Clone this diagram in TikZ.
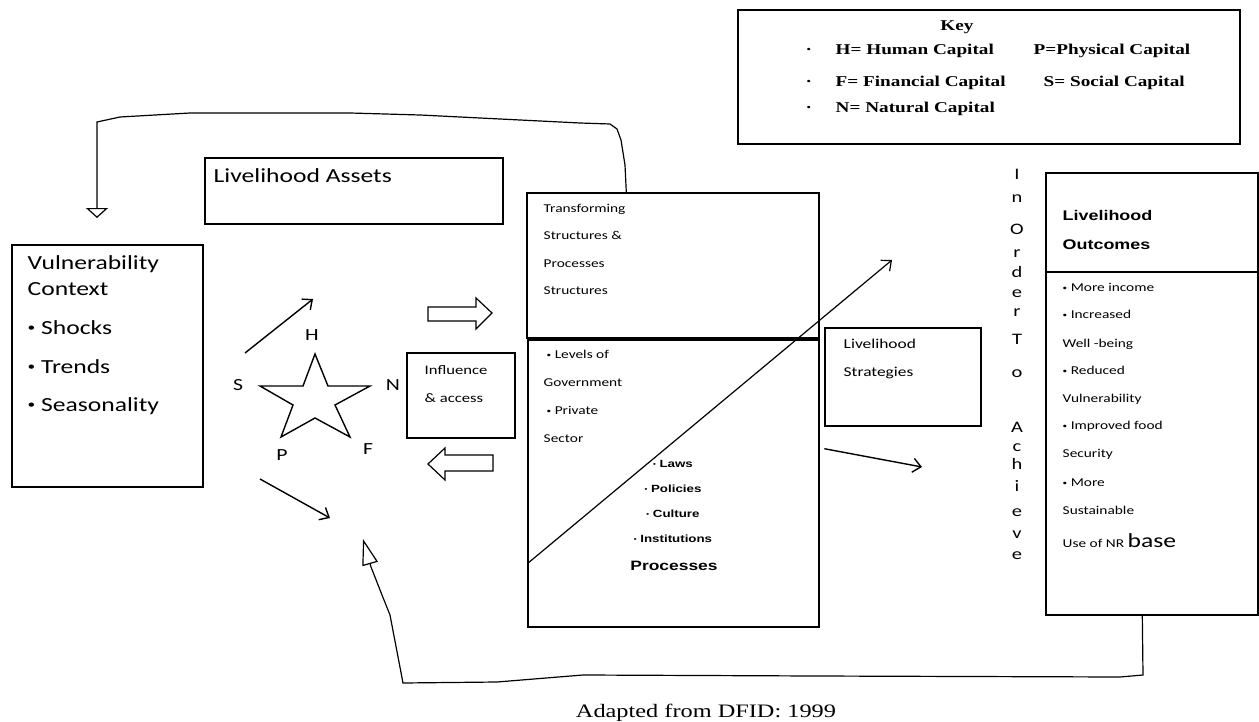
\documentclass[tikz,border=0pt]{standalone}
\usepackage{fontspec}
\setmainfont[FakeStretch=1.28]{Carlito}
\newfontfamily\arialfont[FakeStretch=1.28]{Liberation Sans}
\newfontfamily\timesfont[FakeStretch=1.28]{Liberation Serif}
\usetikzlibrary{arrows.meta,fit}
\newcommand{\bul}{\raisebox{0.14em}{\scalebox{0.6}{•}}}

\begin{document}
\begin{tikzpicture}[x=0.5pt, y=-0.5pt, line width=0.7pt,
    box/.style={draw, inner sep=0pt},
    lbl/.style={anchor=mid west, inner sep=0pt, font=\fontsize{#1}{#1}\selectfont},
    bld/.style={anchor=mid, inner sep=0pt, font=\arialfont\bfseries\fontsize{#1}{#1}\selectfont},
    keytxt/.style={anchor=mid west, inner sep=0pt, font=\timesfont\bfseries\fontsize{7.5}{9}\selectfont},
    barb/.style={-{Straight Barb[length=4pt,width=7pt]}},
    fb/.style={line width=0.6pt}]
    \useasboundingbox (0,0) rectangle (1259,722);

    % Key
    \node[box, fit={(738,10) (1240,144)}] (key) {};
    \node[keytxt, anchor=mid] (keyt) at (957,26) {Key};
    \node[keytxt] (k1) at (805,50) {\makebox[15pt][l]{·}H= Human Capital};
    \node[keytxt] (k2) at (1033,50) {P=Physical Capital};
    \node[keytxt] (k3) at (805,82) {\makebox[15pt][l]{·}F= Financial Capital};
    \node[keytxt] (k4) at (1043,82) {S= Social Capital};
    \node[keytxt] (k5) at (805,108) {\makebox[15pt][l]{·}N= Natural Capital};

    % Boxes
    \node[box, fit={(205,158) (503,224)}] (assets) {};
    \node[lbl=10] (assetst) at (213,178) {Livelihood Assets};
    \node[box, fit={(12,245) (203,487)}] (vuln) {};
    \foreach \y/\t [count=\i] in {265/Vulnerability, 291/Context, 330/\bul{} Shocks, 369/\bul{} Trends, 407/\bul{} Seasonality}
        \node[lbl=10] (vuln\i) at (27,\y) {\t};
    \node[box, fit={(407,353) (515,438)}] (infl) {};
    \node[lbl=6.5] (infl1) at (424,370) {Influence};
    \node[lbl=6.5] (infl2) at (424,398) {\& access};
    \node[box, fit={(527,193) (819,338)}] (trans) {};
    \node[box, fit={(528,340) (819,627)}] (proc) {};
    \foreach \y/\t [count=\i] in {208/Transforming, 235/Structures \&, 263/Processes, 290/Structures}
        \node[lbl=6] (trans\i) at (543,\y) {\t};
    \foreach \x/\y/\t [count=\i] in {546/354/\bul{} Levels of, 543/382/Government, 546/410/\bul{} Private, 543/438/Sector}
        \node[lbl=6] (lvl\i) at (\x,\y) {\t};
    \foreach \y/\t [count=\i] in {463/\bul{} Laws, 488/\bul{} Policies, 513/\bul{} Culture, 538/\bul{} Institutions}
        \node[bld=5.2] (law\i) at (673,\y) {\t};
    \node[bld=6.8] (proct) at (674,566) {Processes};
    \node[box, fit={(825,328) (981,426)}] (strat) {};
    \node[lbl=6.8] (strat1) at (843,344) {Livelihood};
    \node[lbl=6.8] (strat2) at (843,372) {Strategies};
    \node[box, fit={(1046,173) (1258,615)}] (outc) {};
    \draw (1046,272) -- (1258,272);
    \node[lbl=7, font=\arialfont\bfseries\fontsize{7}{7}\selectfont] (outc1) at (1062,216) {Livelihood};
    \node[lbl=7, font=\arialfont\bfseries\fontsize{7}{7}\selectfont] (outc2) at (1062,245) {Outcomes};
    \foreach \y/\t [count=\i] in {287/\bul{} More income, 314/\bul{} Increased, 343/Well -being, 370/\bul{} Reduced,
        398/Vulnerability, 425/\bul{} Improved food, 453/Security, 482/\bul{} More, 510/Sustainable,
        543/{Use of NR \fontsize{10}{10}\selectfont base}}
        \node[lbl=6] (res\i) at (1062,\y) {\t};

    % In Order To Achieve
    \foreach \y/\c [count=\i] in {175/I, 198/n, 230/O, 253/r, 273/d, 293/e, 312/r, 340/T, 373/o,
        428/A, 447/c, 465/h, 487/i, 512/e, 534/v, 555/e}
        \node[anchor=mid, inner sep=0pt, font=\fontsize{8}{8}\selectfont] (ach\i) at (1017,\y) {\c};

    % Asset star
    \draw (260,386) -- (303,386) -- (315,354) -- (328,386) -- (370,386) -- (335,405)
        -- (350,437) -- (315,418) -- (281,437) -- (293,405) -- cycle;
    \foreach \x/\y/\c in {312/335/H, 238/385/S, 393/385/N, 282/455/P, 368/449/F}
        \node[inner sep=0pt, font=\fontsize{8.5}{8.5}\selectfont] (cap\c) at (\x,\y) {\c};

    % Arrows
    \coordinate (a1) at (245,353);
    \coordinate (b1) at (313,299);
    \coordinate (a2) at (260,479);
    \coordinate (b2) at (330,518);
    \coordinate (b3) at (892,260);
    \coordinate (b4) at (922,467);
    \draw[barb] (a1) -- (b1);
    \draw[barb] (a2) -- (b2);
    \draw[barb, line width=0.6pt] (proc.south west) ++(0,-64) -- (b3);
    \draw[barb] (strat.south west) ++(0,22) -- (b4);

    % Block arrows
    \draw[line width=0.6pt] (428,307) -- (476,307) -- (476,298) -- (492,313) -- (476,329)
        -- (476,321) -- (428,321) -- cycle;
    \draw[line width=0.6pt] (428,464) -- (445,448) -- (445,455) -- (493,455) -- (493,471)
        -- (445,471) -- (445,480) -- cycle;

    % Feedback loops
    \draw[fb, -{Triangle[open, length=5pt, width=11pt]}] (trans.north west) ++(100,0)
        -- (625,165) -- (621,140) -- (617,129) -- (610,124) -- (580,123) -- (480,118)
        -- (420,115) -- (350,113) -- (190,113) -- (120,117) -- (97,122) -- (97,218);
    \draw[fb, -{Triangle[open, length=13pt, width=8pt]}] (outc.south west) ++(97,0)
        -- (1143,675) -- (1120,677) -- (815,676) -- (583,675) -- (497,682) -- (403,683)
        -- (390,615) -- (382,595) -- (371,567) -- (363,539);

    % Caption
    \node[anchor=mid, inner sep=0pt, font=\timesfont\fontsize{9.5}{9.5}\selectfont] (src) at (706,713) {Adapted from DFID: 1999};
\end{tikzpicture}
\end{document}
